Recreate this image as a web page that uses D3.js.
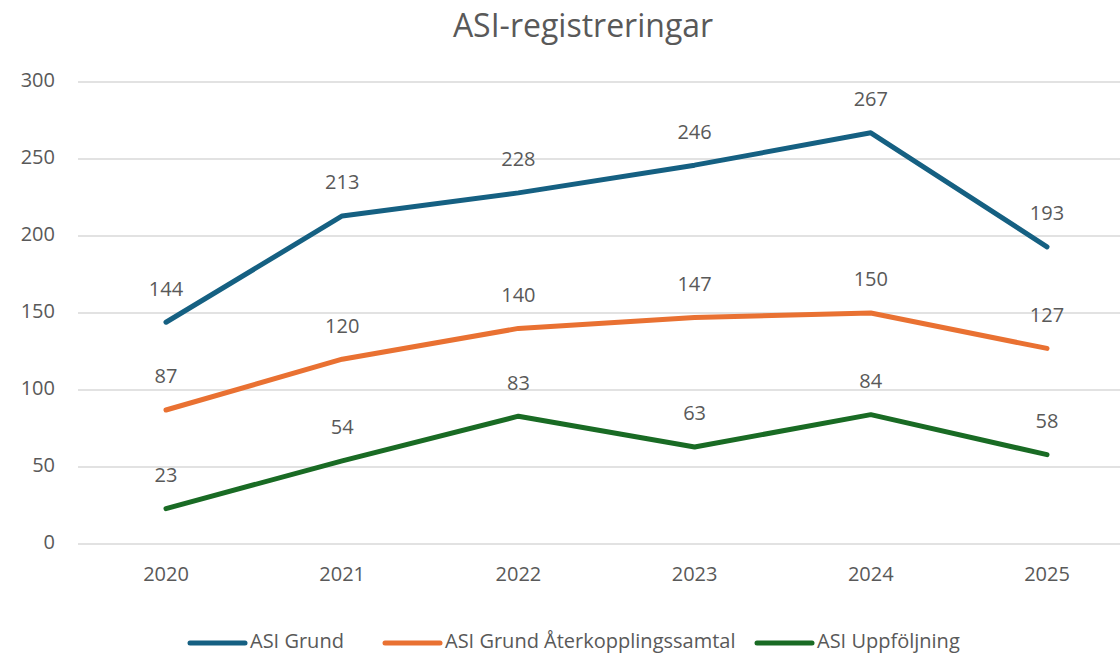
<!DOCTYPE html>
<html>
<head>
<meta charset="utf-8">
<script src="https://cdn.jsdelivr.net/npm/d3@7"></script>
<style>
  body { margin: 0; background: #fff; }
  text { font-family: "Open Sans", "Noto Sans", sans-serif; fill: #595959; }
</style>
</head>
<body>
<div id="chart"></div>
<script>
const years = ["2020", "2021", "2022", "2023", "2024", "2025"];
const grund = [144, 213, 228, 246, 267, 193];
const aterkoppling = [87, 120, 140, 147, 150, 127];
const uppfoljning = [23, 54, 83, 63, 84, 58];
const seriesNames = ["ASI Grund", "ASI Grund Återkopplingssamtal", "ASI Uppföljning"];
const seriesColors = ["#156082", "#E97132", "#196B24"];
const yTicks = [0, 50, 100, 150, 200, 250, 300];

const W = 1120, H = 656;
const series = [grund, aterkoppling, uppfoljning].map((vals, i) => ({
  name: seriesNames[i], color: seriesColors[i], values: vals
}));

const svg = d3.select("#chart").append("svg")
  .attr("width", W).attr("height", H);

const x = d3.scalePoint().domain(years).range([166, 1047]);
const y = d3.scaleLinear().domain([0, 300]).range([544, 82]);

// title
svg.append("text")
  .attr("x", 583).attr("y", 28)
  .attr("text-anchor", "middle").attr("dominant-baseline", "middle")
  .style("font-size", "32px")
  .text("ASI-registreringar");

// gridlines
svg.append("g").selectAll("line")
  .data(yTicks).enter().append("line")
  .attr("x1", 78).attr("x2", 1120)
  .attr("y1", d => y(d)).attr("y2", d => y(d))
  .attr("stroke", "#d9d9d9").attr("stroke-width", 1.3);

// y axis labels
svg.append("g").selectAll("text")
  .data(yTicks).enter().append("text")
  .attr("x", 55).attr("y", d => y(d))
  .attr("text-anchor", "end").attr("dominant-baseline", "middle")
  .style("font-size", "20px")
  .text(d => d);

// x axis labels
svg.append("g").selectAll("text")
  .data(years).enter().append("text")
  .attr("x", d => x(d)).attr("y", 576)
  .attr("text-anchor", "middle").attr("dominant-baseline", "middle")
  .style("font-size", "20px")
  .text(d => d);

const line = d3.line()
  .x((d, i) => x(years[i]))
  .y(d => y(d));

series.forEach(s => {
  svg.append("path")
    .datum(s.values)
    .attr("d", line)
    .attr("fill", "none")
    .attr("stroke", s.color)
    .attr("stroke-width", 5)
    .attr("stroke-linejoin", "round")
    .attr("stroke-linecap", "round");

  svg.append("g").selectAll("text")
    .data(s.values).enter().append("text")
    .attr("x", (d, i) => x(years[i]))
    .attr("y", d => y(d) - 32)
    .attr("text-anchor", "middle").attr("dominant-baseline", "middle")
    .style("font-size", "20px")
    .text(d => d);
});

// legend
const legendX = [190, 385, 757];
const legend = svg.append("g");
series.forEach((s, i) => {
  const g = legend.append("g").attr("transform", `translate(${legendX[i]},643)`);
  g.append("line")
    .attr("x1", 0).attr("x2", 55).attr("y1", 0).attr("y2", 0)
    .attr("stroke", s.color).attr("stroke-width", 5)
    .attr("stroke-linecap", "round");
  g.append("text")
    .attr("x", 60).attr("y", 0)
    .attr("dominant-baseline", "middle")
    .style("font-size", "20px")
    .text(s.name);
});
</script>
</body>
</html>
